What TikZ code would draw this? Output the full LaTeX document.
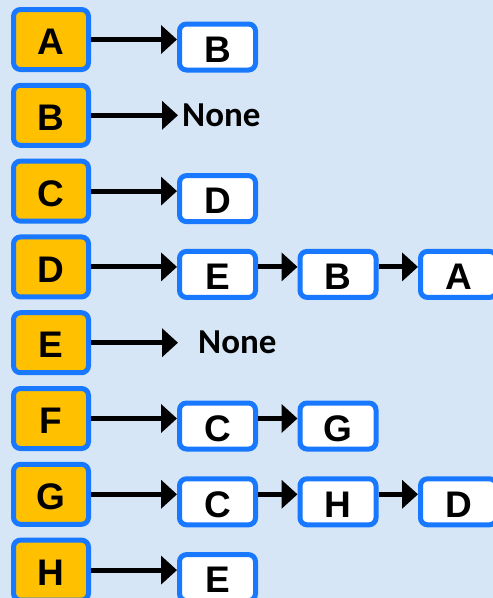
\documentclass[tikz,border=0pt]{standalone}
\usepackage{fontspec}
\setmainfont{Liberation Sans}
\newfontfamily\nonefont{Carlito}
\usetikzlibrary{arrows.meta}
\definecolor{bgblue}{RGB}{214,230,246}
\definecolor{bordblue}{RGB}{24,120,255}
\definecolor{keyorange}{RGB}{255,192,0}
\tikzset{
  boxbase/.style={draw=bordblue, line width=5pt, rounded corners=7pt, inner sep=0pt,
    font=\fontsize{37}{40}\selectfont\bfseries, text height=30.5pt, text depth=0pt},
  keybox/.style={boxbase, fill=keyorange, minimum width=75pt, minimum height=60pt},
  valbox/.style={boxbase, fill=white, minimum width=76pt, minimum height=46pt},
  link/.style={line width=5pt, -{Triangle[length=16pt,width=28pt]}},
  nonetext/.style={font=\nonefont\fontsize{35}{38}\selectfont\bfseries, anchor=west, inner ysep=0pt}
}
\begin{document}
\begin{tikzpicture}[x=1pt,y=-1pt]
\useasboundingbox (0,0) rectangle (493,598);
\clip (0,0) rectangle (493,598);
\fill[bgblue] (0,0) rectangle (493,598);
% keys
\node[keybox] (kA) at (51,39.5) {A};
\node[keybox] (kB) at (51,115.3) {B};
\node[keybox] (kC) at (51,191.1) {C};
\node[keybox] (kD) at (51,266.9) {D};
\node[keybox] (kE) at (51,342.7) {E};
\node[keybox] (kF) at (51,418.5) {F};
\node[keybox] (kG) at (51,494.3) {G};
\node[keybox] (kH) at (51,570.1) {H};
% values
\node[valbox] (vA1) at (217.5,47) {B};
\node[nonetext, inner xsep=4pt] (nB) at (178,115.3) {None};
\node[valbox] (vC1) at (217.5,198.6) {D};
\node[valbox] (vD1) at (217.5,274.4) {E};
\node[valbox] (vD2) at (338,274.4) {B};
\node[valbox] (vD3) at (458.5,274.4) {A};
\node[nonetext, inner xsep=20pt] (nE) at (178,342.7) {None};
\node[valbox] (vF1) at (217.5,426) {C};
\node[valbox] (vF2) at (338,426) {G};
\node[valbox] (vG1) at (217.5,501.8) {C};
\node[valbox] (vG2) at (338,501.8) {H};
\node[valbox] (vG3) at (458.5,501.8) {D};
\node[valbox] (vH1) at (217.5,577.6) {E};
% links
\draw[link] (kA.east) -- (kA.east -| vA1.west);
\draw[link] (kB.east) -- (nB.west);
\draw[link] (kC.east) -- (kC.east -| vC1.west);
\draw[link] (kD.east) -- (kD.east -| vD1.west);
\draw[link] (vD1.east |- kD) -- (vD2.west |- kD);
\draw[link] (vD2.east |- kD) -- (vD3.west |- kD);
\draw[link] (kE.east) -- (nE.west);
\draw[link] (kF.east) -- (kF.east -| vF1.west);
\draw[link] (vF1.east |- kF) -- (vF2.west |- kF);
\draw[link] (kG.east) -- (kG.east -| vG1.west);
\draw[link] (vG1.east |- kG) -- (vG2.west |- kG);
\draw[link] (vG2.east |- kG) -- (vG3.west |- kG);
\draw[link] (kH.east) -- (kH.east -| vH1.west);
\end{tikzpicture}
\end{document}
